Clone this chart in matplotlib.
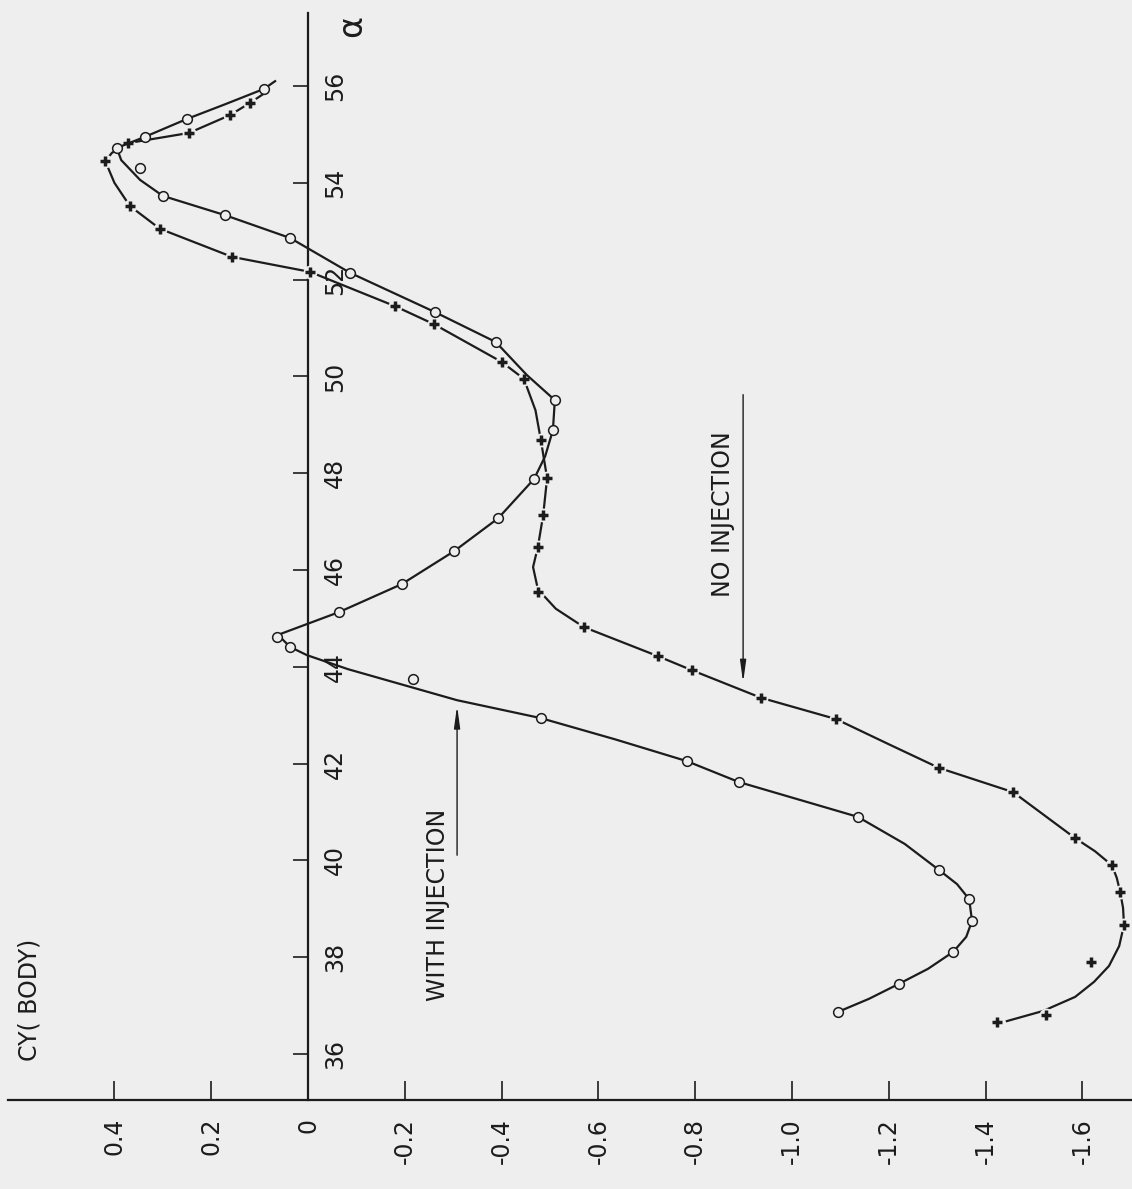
import matplotlib.pyplot as plt

# Side force coefficient CY(BODY) against angle of attack alpha (deg)
# chart is drawn turned 90 degrees, as in the scanned original

# --- with injection (open circles) ---
alpha_with = [55.94, 55.32, 54.95, 54.72, 54.31, 53.73, 53.33, 52.86, 52.14, 51.33,
              50.71, 49.51, 48.89, 47.88, 47.07, 46.39, 45.71, 45.13, 44.62, 44.41,
              43.75, 42.94, 42.05, 41.62, 40.90, 39.80, 39.20, 38.75, 38.11, 37.45, 36.87]
cy_with = [0.091, 0.250, 0.337, 0.395, 0.347, 0.300, 0.171, 0.037, -0.087, -0.262,
           -0.388, -0.510, -0.506, -0.467, -0.393, -0.302, -0.194, -0.064, 0.064, 0.037,
           -0.217, -0.481, -0.783, -0.890, -1.136, -1.304, -1.366, -1.372, -1.333, -1.221, -1.095]

# faired curve
alpha_with_curve = [56.10, 55.94, 55.62, 55.32, 54.95, 54.72, 54.47, 54.06, 53.73, 53.33,
                    52.86, 52.50, 52.14, 51.33, 50.71, 50.03, 49.51, 48.89, 48.35, 47.88,
                    47.07, 46.39, 45.71, 45.13, 44.66, 44.41, 44.24, 43.95, 43.31, 42.94,
                    42.50, 42.05, 41.62, 40.90, 40.34, 39.80, 39.51, 39.20, 38.75, 38.42,
                    38.11, 37.76, 37.45, 37.14, 36.87]
cy_with_curve = [0.068, 0.091, 0.172, 0.250, 0.337, 0.395, 0.386, 0.347, 0.300, 0.171,
                 0.037, -0.025, -0.087, -0.262, -0.388, -0.452, -0.510, -0.506, -0.490, -0.467,
                 -0.393, -0.302, -0.194, -0.064, 0.062, 0.037, 0.002, -0.083, -0.308, -0.481,
                 -0.635, -0.783, -0.890, -1.136, -1.233, -1.304, -1.341, -1.366, -1.372, -1.360,
                 -1.333, -1.281, -1.221, -1.159, -1.095]

# --- no injection (crosses) ---
alpha_no = [55.65, 55.40, 55.03, 54.82, 54.45, 53.52, 53.05, 52.47, 52.16, 51.45,
            51.08, 50.30, 49.95, 48.69, 47.90, 47.14, 46.48, 45.55, 44.82, 44.22,
            43.93, 43.36, 42.92, 41.91, 41.41, 40.46, 39.90, 39.35, 38.67, 37.90,
            36.81, 36.66]
cy_no = [0.120, 0.161, 0.246, 0.372, 0.419, 0.368, 0.306, 0.157, -0.004, -0.180,
         -0.260, -0.400, -0.446, -0.481, -0.494, -0.486, -0.475, -0.475, -0.570, -0.723,
         -0.793, -0.936, -1.091, -1.304, -1.457, -1.585, -1.661, -1.678, -1.686, -1.618,
         -1.525, -1.424]

alpha_no_curve = [55.85, 55.65, 55.40, 55.03, 54.82, 54.62, 54.45, 54.00, 53.52, 53.05,
                  52.47, 52.16, 51.45, 51.08, 50.30, 49.95, 49.30, 48.69, 47.90, 47.14,
                  46.48, 46.06, 45.60, 45.20, 44.82, 44.22, 43.93, 43.36, 42.92, 42.40,
                  41.91, 41.41, 40.46, 40.19, 39.90, 39.64, 39.35, 39.02, 38.67, 38.23,
                  37.82, 37.49, 37.18, 36.89, 36.68]
cy_no_curve = [0.090, 0.120, 0.161, 0.246, 0.372, 0.405, 0.419, 0.400, 0.368, 0.306,
               0.157, -0.004, -0.180, -0.260, -0.400, -0.446, -0.470, -0.481, -0.494, -0.486,
               -0.475, -0.465, -0.475, -0.512, -0.570, -0.723, -0.793, -0.936, -1.091, -1.200,
               -1.304, -1.457, -1.585, -1.626, -1.661, -1.671, -1.678, -1.684, -1.686, -1.676,
               -1.655, -1.624, -1.585, -1.519, -1.444]

cy_ticks = [0.4, 0.2, 0, -0.2, -0.4, -0.6, -0.8, -1.0, -1.2, -1.4, -1.6]
cy_labels = ['0.4', '0.2', '0', '-0.2', '-0.4', '-0.6', '-0.8', '-1.0', '-1.2', '-1.4', '-1.6']
alpha_ticks = [36, 38, 40, 42, 44, 46, 48, 50, 52, 54, 56]

bg = '#eeeeee'
ink = '#1c1c1c'

plt.rcParams['font.family'] = ['DejaVu Sans']

fig = plt.figure(figsize=(11.32, 11.89), dpi=100, facecolor=bg)
ax = fig.add_axes([0, 0, 1, 1], facecolor=bg)

ax.set_xlim(0.6364, -1.7025)
ax.set_ylim(33.211, 57.777)

# no injection curve, broken around the markers
ax.plot(cy_no_curve, alpha_no_curve, color=ink, linewidth=1.6, zorder=2,
        solid_joinstyle='round')
ax.plot(cy_no, alpha_no, linestyle='none', marker='o', markersize=10,
        markerfacecolor=bg, markeredgecolor='none', zorder=3)
ax.plot(cy_no, alpha_no, linestyle='none', marker='+', markersize=7.5,
        markeredgewidth=2.5, color=ink, zorder=6)

# with injection curve
ax.plot(cy_with_curve, alpha_with_curve, color=ink, linewidth=1.6, zorder=4,
        solid_joinstyle='round')
ax.plot(cy_with, alpha_with, linestyle='none', marker='o', markersize=7,
        markerfacecolor=bg, markeredgecolor=ink, markeredgewidth=1.1, zorder=5)

# axes: CY along the bottom, alpha axis along CY = 0
for s in ['top', 'left']:
    ax.spines[s].set_visible(False)
ax.spines['bottom'].set_position(('data', 35.05))
ax.spines['bottom'].set_bounds(0.62, -1.7025)
ax.spines['right'].set_position(('data', 0))
ax.spines['right'].set_bounds(35.05, 57.5)
for s in ['bottom', 'right']:
    ax.spines[s].set_linewidth(1.6)
    ax.spines[s].set_color(ink)

ax.set_xticks(cy_ticks)
ax.set_xticklabels(cy_labels, rotation=90)
ax.set_yticks(alpha_ticks)
ax.set_yticklabels([str(a) for a in alpha_ticks], rotation=90, va='center')
ax.yaxis.tick_right()
ax.tick_params(axis='x', direction='in', length=14, width=1.2, pad=13,
               labelsize=17, colors=ink)
ax.tick_params(axis='y', direction='in', length=11, width=1.2, pad=11,
               labelsize=17, colors=ink)

ax.text(-0.09, 57.25, '\u03b1', rotation=90, fontsize=24, color=ink,
        ha='center', va='center')
ax.text(0.575, 35.85, 'CY( BODY)', rotation=90, fontsize=17, color=ink,
        ha='center', va='bottom')

# labels with pointers
ax.text(-0.857, 47.16, 'NO INJECTION', rotation=90, fontsize=17, color=ink,
        ha='center', va='center')
ax.annotate('', xy=(-0.899, 43.62), xytext=(-0.899, 49.68),
            arrowprops=dict(arrowstyle='-|>,head_length=1.3,head_width=0.18',
                            color=ink, linewidth=1.0))
ax.text(-0.269, 39.08, 'WITH INJECTION', rotation=90, fontsize=17, color=ink,
        ha='center', va='center')
ax.annotate('', xy=(-0.308, 43.25), xytext=(-0.308, 40.05),
            arrowprops=dict(arrowstyle='-|>,head_length=1.3,head_width=0.18',
                            color=ink, linewidth=1.0))

fig.savefig('out.png', dpi=100, facecolor=bg)
